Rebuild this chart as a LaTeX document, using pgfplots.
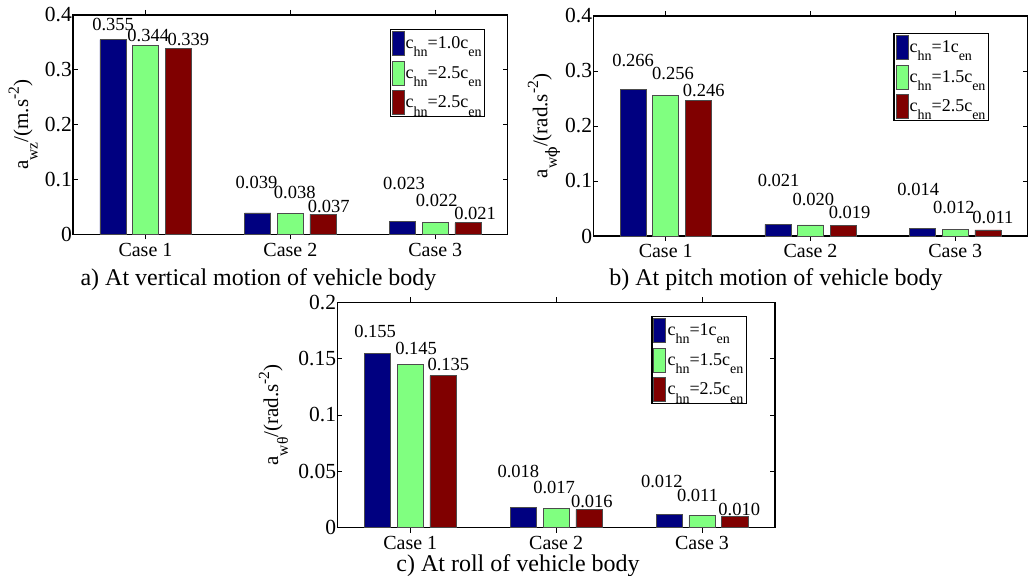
\documentclass[border=0pt]{standalone}
\usepackage{fontspec}
\setmainfont{Liberation Serif}
\newfontfamily\dvs{DejaVu Serif}
\usepackage{pgfplots}
\pgfplotsset{compat=1.18}
\definecolor{cblue}{RGB}{0,0,128}
\definecolor{cgreen}{RGB}{128,255,128}
\definecolor{cred}{RGB}{128,0,0}
\newcommand\sub[1]{\raisebox{-1ex}{\fontsize{14}{14}\selectfont #1}}
\newcommand\lsub[1]{\raisebox{-1ex}{\fontsize{15.5}{15}\selectfont #1}}
\newcommand\sups[1]{\raisebox{0.95ex}{\fontsize{15.5}{15}\selectfont #1}}
\tikzset{vl/.style={font=\fontsize{18.5}{20}\selectfont, inner sep=0pt}}
\pgfplotsset{
  mybase/.style={
    scale only axis, anchor=south west, clip=false,
    xmin=0.5, xmax=3.5, ymin=0,
    xtick={1,2,3}, xticklabels={Case 1,Case 2,Case 3},
    tick align=inside, tick pos=both,
    major tick length=5pt,
    axis line style={line width=1.1pt},
    every tick/.style={black, line width=0.9pt},
    tick label style={font=\fontsize{20}{24}\selectfont},
    yticklabel style={inner xsep=1pt, font=\fontsize{21.5}{24}\selectfont},
    label style={font=\fontsize{21}{24}\selectfont},
    ylabel style={anchor=base},
    ybar, bar width=0.18,
    legend cell align=left,
    legend style={draw=black, line width=1.1pt, inner sep=1.5pt,
      font=\fontsize{18}{20}\selectfont, row sep=5pt,
      nodes={inner sep=1.5pt}},
    every axis plot post/.append style={draw=black!70, line width=0.6pt,
      legend image code/.code={\draw[##1] (0pt,-12pt) rectangle (12pt,12pt);}},
  },
}
\begin{document}
\begin{tikzpicture}
\path[use as bounding box] (0,0) rectangle (1029pt,576pt);
% ---------- panel a
\begin{axis}[mybase, at={(73pt,341.7pt)}, width=434.7pt, height=219.3pt,
  ymax=0.4, ytick={0,0.1,0.2,0.3,0.4}, yticklabels={0,0.1,0.2,0.3,0.4},
  ylabel={a\lsub{wz}/(m.s\sups{-2})},
  ylabel style={at={(axis description cs:-0.1035,0.5)}},
  legend style={at={(0.948,0.936)}, anchor=north east}]
\addplot[fill=cblue, bar shift=-0.225] coordinates {(1,0.355) (2,0.039) (3,0.023)};
\addplot[fill=cgreen, bar shift=0] coordinates {(1,0.344) (2,0.038) (3,0.022)};
\addplot[fill=cred, bar shift=0.225] coordinates {(1,0.339) (2,0.037) (3,0.021)};
\legend{c\sub{hn}=1.0c\sub{en}, c\sub{hn}=2.5c\sub{en}, c\sub{hn}=2.5c\sub{en}}
\node[vl] at (axis cs:0.777,0.383) {0.355};
\node[vl] at (axis cs:1.019,0.362) {0.344};
\node[vl] at (axis cs:1.296,0.356) {0.339};
\node[vl] at (axis cs:1.766,0.094) {0.039};
\node[vl] at (axis cs:2.030,0.077) {0.038};
\node[vl] at (axis cs:2.265,0.050) {0.037};
\node[vl] at (axis cs:2.784,0.093) {0.023};
\node[vl] at (axis cs:3.010,0.062) {0.022};
\node[vl] at (axis cs:3.275,0.038) {0.021};
\end{axis}
% ---------- panel b
\begin{axis}[mybase, at={(593.3pt,340pt)}, width=434.4pt, height=220pt,
  ymax=0.4, ytick={0,0.1,0.2,0.3,0.4}, yticklabels={0,0.1,0.2,0.3,0.4},
  ylabel={a\lsub{w{\dvs ϕ}}/(rad.s\sups{-2})},
  ylabel style={at={(axis description cs:-0.106,0.5)}},
  legend style={at={(0.911,0.923)}, anchor=north east}]
\addplot[fill=cblue, bar shift=-0.225] coordinates {(1,0.266) (2,0.021) (3,0.014)};
\addplot[fill=cgreen, bar shift=0] coordinates {(1,0.256) (2,0.020) (3,0.012)};
\addplot[fill=cred, bar shift=0.225] coordinates {(1,0.246) (2,0.019) (3,0.011)};
\legend{c\sub{hn}=1c\sub{en}, c\sub{hn}=1.5c\sub{en}, c\sub{hn}=2.5c\sub{en}}
\node[vl] at (axis cs:0.775,0.320) {0.266};
\node[vl] at (axis cs:1.050,0.296) {0.256};
\node[vl] at (axis cs:1.263,0.264) {0.246};
\node[vl] at (axis cs:1.780,0.1006) {0.021};
\node[vl] at (axis cs:2.020,0.067) {0.020};
\node[vl] at (axis cs:2.270,0.042) {0.019};
\node[vl] at (axis cs:2.744,0.085) {0.014};
\node[vl] at (axis cs:2.990,0.052) {0.012};
\node[vl] at (axis cs:3.260,0.034) {0.011};
\end{axis}
% ---------- panel c
\begin{axis}[mybase, at={(337.3pt,48.3pt)}, width=437.7pt, height=225.4pt,
  ymax=0.2, ytick={0,0.05,0.1,0.15,0.2}, yticklabels={0,0.05,0.1,0.15,0.2},
  ylabel={a\lsub{wθ}/(rad.s\sups{-2})},
  ylabel style={at={(axis description cs:-0.135,0.5)}},
  legend style={at={(0.936,0.939)}, anchor=north east}]
\addplot[fill=cblue, bar shift=-0.225] coordinates {(1,0.155) (2,0.018) (3,0.012)};
\addplot[fill=cgreen, bar shift=0] coordinates {(1,0.145) (2,0.017) (3,0.011)};
\addplot[fill=cred, bar shift=0.225] coordinates {(1,0.135) (2,0.016) (3,0.010)};
\legend{c\sub{hn}=1c\sub{en}, c\sub{hn}=1.5c\sub{en}, c\sub{hn}=2.5c\sub{en}}
\node[vl] at (axis cs:0.759,0.174) {0.155};
\node[vl] at (axis cs:1.040,0.1586) {0.145};
\node[vl] at (axis cs:1.261,0.1444) {0.135};
\node[vl] at (axis cs:1.741,0.0503) {0.018};
\node[vl] at (axis cs:1.986,0.0355) {0.017};
\node[vl] at (axis cs:2.245,0.0237) {0.016};
\node[vl] at (axis cs:2.725,0.0414) {0.012};
\node[vl] at (axis cs:2.969,0.0284) {0.011};
\node[vl] at (axis cs:3.255,0.0166) {0.010};
\end{axis}
% ---------- captions
\node[anchor=base, font=\fontsize{24}{28}\selectfont, inner sep=0pt] at (258.5pt,290pt) {a) At vertical motion of vehicle body};
\node[anchor=base, font=\fontsize{24}{28}\selectfont, inner sep=0pt] at (776pt,290pt) {b) At pitch motion of vehicle body};
\node[anchor=base, font=\fontsize{24}{28}\selectfont, inner sep=0pt] at (518pt,4.5pt) {c) At roll of vehicle body};
\end{tikzpicture}
\end{document}
